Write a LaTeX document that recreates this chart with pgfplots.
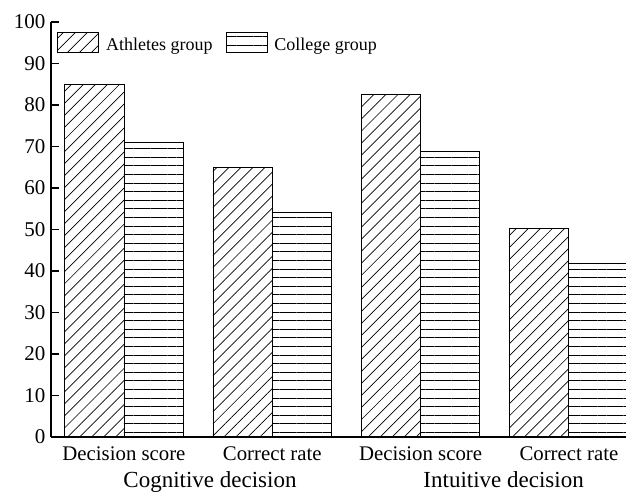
\documentclass[border=0pt]{standalone}
\usepackage{fontspec}
\setmainfont{Liberation Serif}
\usepackage{pgfplots}
\pgfplotsset{compat=1.18}
\usetikzlibrary{patterns.meta}
\begin{document}
\begin{tikzpicture}
\begin{axis}[
  width=575pt, height=415pt, scale only axis,
  xmin=-0.492, xmax=3.385, ymin=0, ymax=100,
  axis lines*=left,
  axis line style={line width=1.6pt},
  clip mode=individual,
  ytick={0,10,...,100},
  xtick={0,1,2,3},
  xticklabels={Decision score, Correct rate, Decision score, Correct rate},
  x tick style={draw=none},
  y tick style={line width=1.6pt, black},
  major tick length=8pt,
  tick align=inside,
  /pgf/number format/assume math mode=true,
  yticklabel style={font=\rmfamily\fontsize{21}{25}\selectfont, xshift=-2pt},
  xticklabel style={font=\rmfamily\fontsize{20.8}{25}\selectfont, anchor=base, yshift=-23pt},
  legend style={at={(0,1)}, anchor=north west, xshift=6pt, yshift=-10pt,
    draw=none, fill=none, inner sep=0pt, font=\rmfamily\fontsize{18}{22}\selectfont,
    nodes={inner sep=0pt},
    /tikz/every odd column/.append style={column sep=7pt},
    /tikz/every even column/.append style={column sep=13pt}},
  legend columns=-1,
  legend cell align=left,
  legend image code/.code={\draw[#1] (0pt,-8pt) rectangle (41pt,12pt);},
]
\addplot[ybar, bar width=0.4, bar shift=-0.2, draw=black, line width=0.9pt,
  pattern={Lines[angle=45,distance=8.5pt,line width=0.7pt]}]
  coordinates {(0,84.9) (1,64.9) (2,82.6) (3,50.3)};
\addlegendentry{Athletes group}
\addplot[ybar, bar width=0.4, bar shift=0.2, draw=black, line width=0.9pt,
  pattern={Lines[angle=0,distance=8.6pt,line width=0.7pt]}]
  coordinates {(0,71.0) (1,54.0) (2,68.8) (3,41.9)};
\addlegendentry{College group}
\node[anchor=base, yshift=-50pt, font=\rmfamily\fontsize{23}{27}\selectfont] at (axis cs:0.58,0) {Cognitive decision};
\node[anchor=base, yshift=-50pt, font=\rmfamily\fontsize{23}{27}\selectfont] at (axis cs:2.56,0) {Intuitive decision};
\end{axis}
\pgfresetboundingbox
\useasboundingbox (-51pt,-55.5pt) rectangle (575pt,437pt);
\end{tikzpicture}
\end{document}
